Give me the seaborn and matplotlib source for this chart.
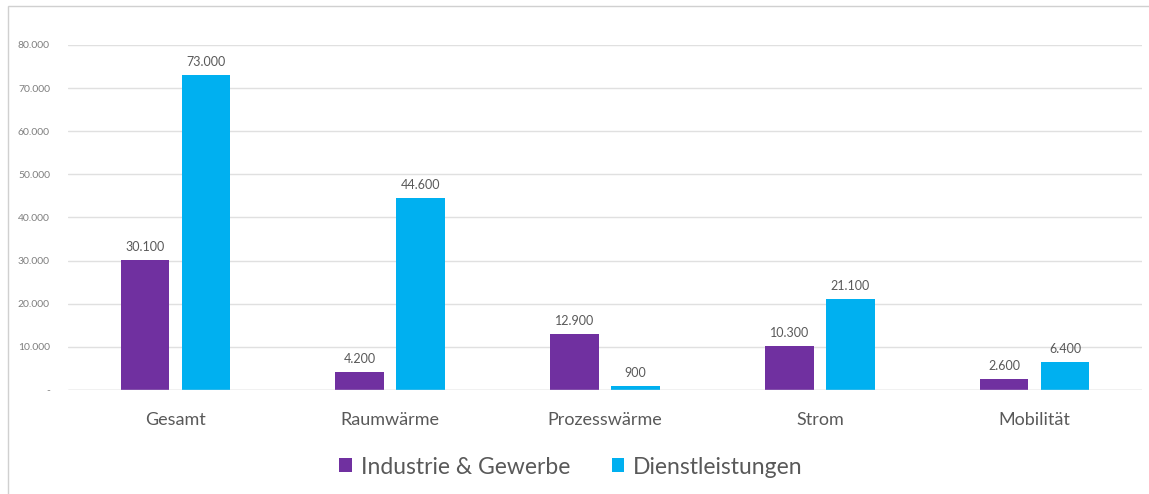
import matplotlib
matplotlib.use("Agg")
import matplotlib.pyplot as plt
from matplotlib.patches import Rectangle
import seaborn as sns
import pandas as pd

categories = ["Gesamt", "Raumwärme", "Prozesswärme", "Strom", "Mobilität"]
industrie = [30100, 4200, 12900, 10300, 2600]
dienstleistungen = [73000, 44600, 900, 21100, 6400]
series_names = ["Industrie & Gewerbe", "Dienstleistungen"]
y_ticks = [0, 10000, 20000, 30000, 40000, 50000, 60000, 70000, 80000]

df = pd.DataFrame({
    "Kategorie": categories * 2,
    "Wert": industrie + dienstleistungen,
    "Sektor": [series_names[0]] * len(categories) + [series_names[1]] * len(categories),
})

sns.set_theme(style="white")
plt.rcParams["font.family"] = ["Lato", "DejaVu Sans"]

def fmt(v):
    return "-" if v == 0 else f"{v:,.0f}".replace(",", ".")

fig = plt.figure(figsize=(11.49, 4.94), dpi=100)
fig.patch.set_facecolor("white")
fig.patches.append(Rectangle((8 / 1149, -0.1), 1.2, 1 - 6 / 494 + 0.1,
                             transform=fig.transFigure, fill=False,
                             edgecolor="#d0d0d0", linewidth=1.0))

ax = fig.add_axes([68 / 1149, 1 - 390 / 494, 1074 / 1149, (390 - 45) / 494])
palette = {series_names[0]: "#7030A0", series_names[1]: "#00B0F0"}
sns.barplot(data=df, x="Kategorie", y="Wert", hue="Sektor", order=categories,
            hue_order=series_names, palette=palette, width=0.568, gap=0.204,
            saturation=1, linewidth=0, ax=ax, legend=True)

ax.set_ylim(0, 80000)
ax.set_yticks(y_ticks)
ax.set_yticklabels([fmt(t) for t in y_ticks], fontsize=7.5, color="#7f7f7f")
ax.yaxis.grid(True, color="#e0e0e0", linewidth=1.0)
ax.set_axisbelow(True)
ax.set_xlim(-0.5, 4.5)
ax.set_xlabel("")
ax.set_ylabel("")
ax.tick_params(axis="x", labelsize=13, colors="#595959", length=0, pad=16)
ax.tick_params(axis="y", length=0, pad=13)
for s in ax.spines.values():
    s.set_visible(False)
ax.axhline(0, color="#d9d9d9", linewidth=1.0, zorder=1)

for container in ax.containers:
    ax.bar_label(container, labels=[fmt(v) for v in container.datavalues],
                 padding=5, fontsize=9, color="#595959")

handles, labels = ax.get_legend_handles_labels()
ax.legend_.remove()
fig.legend(handles, labels, loc="center", bbox_to_anchor=(571 / 1149, 1 - 467 / 494),
           ncol=2, frameon=False, fontsize=16.5, labelcolor="#595959",
           handlelength=0.55, handleheight=0.55, handletextpad=0.4, columnspacing=1.8)

fig.savefig("out.png", dpi=100, facecolor="white")
